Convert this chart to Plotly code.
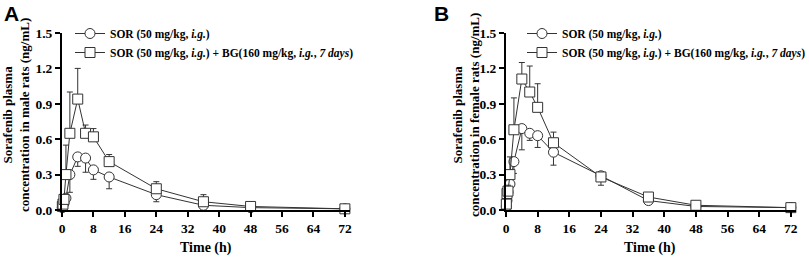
import plotly.graph_objects as go

time_h = [0.083, 0.25, 0.5, 1, 2, 4, 6, 8, 12, 24, 36, 48, 72]

# Panel A (male rats)
a_sor = [0.02, 0.04, 0.06, 0.10, 0.30, 0.45, 0.44, 0.34, 0.28, 0.13, 0.04, 0.02, 0.01]
a_sor_err_down = [0.01, 0.01, 0.02, 0.03, 0.15, 0.08, 0.12, 0.08, 0.10, 0.06, 0.02, 0.01, 0.005]
a_bg = [0.03, 0.05, 0.09, 0.30, 0.65, 0.94, 0.65, 0.62, 0.41, 0.18, 0.07, 0.03, 0.01]
a_bg_err_up = [0.01, 0.02, 0.03, 0.25, 0.35, 0.26, 0.07, 0.07, 0.06, 0.06, 0.06, 0.01, 0.005]

# Panel B (female rats)
b_sor = [0.03, 0.08, 0.15, 0.22, 0.41, 0.69, 0.65, 0.63, 0.49, 0.29, 0.08, 0.03, 0.02]
b_sor_err_down = [0.01, 0.02, 0.03, 0.05, 0.10, 0.18, 0.06, 0.10, 0.11, 0.03, 0.01, 0.01, 0.005]
b_bg = [0.05, 0.14, 0.16, 0.30, 0.68, 1.11, 1.00, 0.87, 0.57, 0.28, 0.11, 0.04, 0.02]
b_bg_err_up = [0.02, 0.03, 0.05, 0.15, 0.27, 0.14, 0.22, 0.20, 0.09, 0.0, 0.02, 0.01, 0.005]
b_bg_err_down = [0, 0, 0, 0, 0, 0, 0, 0, 0, 0.07, 0, 0, 0]

x_ticks = [0, 8, 16, 24, 32, 40, 48, 56, 64, 72]
y_ticks = [0.0, 0.3, 0.6, 0.9, 1.2, 1.5]
y_tick_text = ["0.0", "0.3", "0.6", "0.9", "1.2", "1.5"]

name_sor = "SOR (50 mg/kg, <i>i.g.</i>)"
name_bg = "SOR (50 mg/kg, <i>i.g.</i>) + BG(160 mg/kg, <i>i.g.</i>, <i>7 days</i>)"

DARK = "#333333"
SERIF = "Liberation Serif"

fig = go.Figure()


def add_series(x, y, up, down, symbol, name, xa, ya, legend):
    fig.add_trace(go.Scatter(
        x=x, y=y, name=name, mode="lines+markers",
        xaxis=xa, yaxis=ya, legend=legend,
        line=dict(color=DARK, width=1),
        marker=dict(symbol=symbol, size=10, color="white",
                    line=dict(color=DARK, width=1)),
        error_y=dict(type="data", symmetric=False, array=up, arrayminus=down,
                     color=DARK, thickness=1, width=3),
        cliponaxis=False,
    ))


zeros = [0] * len(time_h)
add_series(time_h, a_sor, zeros, a_sor_err_down, "circle", name_sor, "x", "y", "legend")
add_series(time_h, a_bg, a_bg_err_up, zeros, "square", name_bg, "x", "y", "legend")
add_series(time_h, b_sor, zeros, b_sor_err_down, "circle", name_sor, "x2", "y2", "legend2")
add_series(time_h, b_bg, b_bg_err_up, b_bg_err_down, "square", name_bg, "x2", "y2", "legend2")

W, H = 809, 257
ydom = [1 - 210 / H, 1 - 33 / H]

axis_common = dict(showline=True, linecolor="black", linewidth=2, ticks="outside",
                   ticklen=5, tickwidth=2, tickcolor="black", showgrid=False,
                   zeroline=False, automargin=False,
                   tickfont=dict(family=SERIF, size=13.5, color="black", weight="bold"))

legend_common = dict(font=dict(family=SERIF, size=11.5, color="black", weight="bold"),
                     bgcolor="rgba(0,0,0,0)", xanchor="left", yanchor="top",
                     itemwidth=30, tracegroupgap=0)

fig.update_layout(
    width=W, height=H, margin=dict(l=0, r=0, t=0, b=0, autoexpand=False),
    paper_bgcolor="white", plot_bgcolor="white",
    showlegend=True,
    xaxis=dict(domain=[62 / W, 350 / W], range=[0, 73.3], tickvals=x_ticks,
               anchor="y", **axis_common),
    yaxis=dict(domain=ydom, range=[0, 1.5], tickvals=y_ticks, ticktext=y_tick_text,
               anchor="x", **axis_common),
    xaxis2=dict(domain=[506 / W, 796 / W], range=[0, 73.3], tickvals=x_ticks,
                anchor="y2", **axis_common),
    yaxis2=dict(domain=ydom, range=[0, 1.5], tickvals=y_ticks, ticktext=y_tick_text,
                anchor="x2", **axis_common),
    legend=dict(x=70 / W, y=1 - 19 / H, **legend_common),
    legend2=dict(x=522 / W, y=1 - 19 / H, **legend_common),
)

title_font = dict(family=SERIF, size=13, color="black", weight="bold")
annos = [
    dict(text="Time (h)", x=206 / W, y=1 - 248 / H, font=dict(family=SERIF, size=14, color="black", weight="bold")),
    dict(text="Time (h)", x=650 / W, y=1 - 248 / H, font=dict(family=SERIF, size=14, color="black", weight="bold")),
    dict(text="Sorafenib plasma<br>concentration in male rats (ng/mL)", x=16 / W,
         y=1 - 115 / H, textangle=-90, font=title_font),
    dict(text="Sorafenib plasma<br>concentration in female rats (ng/mL)", x=466 / W,
         y=1 - 115 / H, textangle=-90, font=title_font),
]
for a in annos:
    fig.add_annotation(xref="paper", yref="paper", showarrow=False,
                       xanchor="center", yanchor="middle", **a)

letter_font = dict(family="Liberation Sans", size=21, color="black", weight="bold")
fig.add_annotation(text="A", xref="paper", yref="paper", x=11.5 / W, y=1 - 13 / H,
                   xanchor="center", yanchor="middle", showarrow=False, font=letter_font)
fig.add_annotation(text="B", xref="paper", yref="paper", x=441 / W, y=1 - 13 / H,
                   xanchor="center", yanchor="middle", showarrow=False, font=letter_font)

fig.write_html("out.html", config={"displayModeBar": False},
               post_script="document.body.style.margin='0';document.body.style.overflow='hidden';")
